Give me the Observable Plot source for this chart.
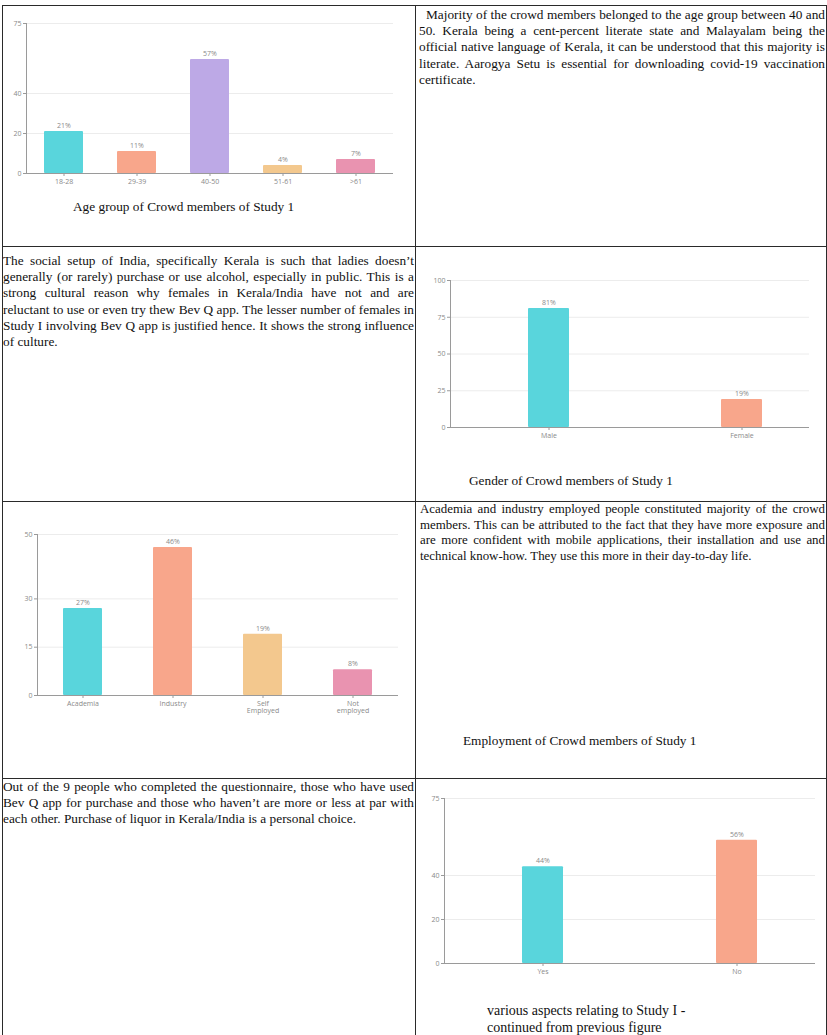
<!DOCTYPE html>
<html>
<head>
<meta charset="utf-8">
<script src="https://cdn.jsdelivr.net/npm/d3@7"></script>
<script src="https://cdn.jsdelivr.net/npm/@observablehq/plot@0.6"></script>
<style>
  body { margin: 0; background: #fff; }
  #page { position: relative; width: 827px; height: 1035px; overflow: hidden; background: #fff;
          font-family: "Liberation Serif", "Times New Roman", serif; color: #111; }
  .hl, .vl { position: absolute; background: #2a2a2a; }
  .txt { position: absolute; font-size: 13.3px; line-height: 16.2px; text-align: justify; }
  .txt .ln { text-align: justify; text-align-last: justify; white-space: nowrap; }
  .txt .ln.last { text-align-last: left; }
  .cap { position: absolute; font-size: 13.3px; line-height: 16px; white-space: nowrap; }
  .chart { position: absolute; }
</style>
</head>
<body>
<div id="page">
  <div class="hl" style="left:2px;top:5px;width:825px;height:1.3px"></div>
  <div class="hl" style="left:2px;top:245.5px;width:825px;height:1.3px"></div>
  <div class="hl" style="left:2px;top:500.5px;width:825px;height:1.3px"></div>
  <div class="hl" style="left:2px;top:777.5px;width:825px;height:1.3px"></div>
  <div class="vl" style="left:1.5px;top:5px;width:1.3px;height:1030px"></div>
  <div class="vl" style="left:415px;top:5px;width:1.3px;height:1030px"></div>
  <div class="vl" style="left:825.5px;top:5px;width:1.3px;height:1030px"></div>

  <div class="txt" style="left:419px;top:7px;width:406px;text-indent:7px">Majority of the crowd members belonged to the age group between 40 and 50. Kerala being a cent-percent literate state and Malayalam being the official native language of Kerala, it can be understood that this majority is literate. Aarogya Setu is essential for downloading covid-19 vaccination certificate.</div>
  <div class="txt" style="left:3px;top:253px;width:411px">
    <div class="ln">The social setup of India, specifically Kerala is such that ladies doesn’t</div>
    <div class="ln">generally (or rarely) purchase or use alcohol, especially in public. This is a</div>
    <div class="ln">strong cultural reason why females in Kerala/India have not and are</div>
    <div class="ln">reluctant to use or even try thew Bev Q app. The lesser number of females in</div>
    <div class="ln">Study I involving Bev Q app is justified hence. It shows the strong influence</div>
    <div class="ln last">of culture.</div>
  </div>
  <div class="txt" style="left:420px;top:502px;width:405px;line-height:15.6px;font-size:12.9px">Academia and industry employed people constituted majority of the crowd members. This can be attributed to the fact that they have more exposure and are more confident with mobile applications, their installation and use and technical know-how. They use this more in their day-to-day life.</div>
  <div class="txt" style="left:3px;top:779px;width:411px;line-height:15.8px">Out of the 9 people who completed the questionnaire, those who have used Bev Q app for purchase and those who haven’t are more or less at par with each other. Purchase of liquor in Kerala/India is a personal choice.</div>

  <div class="cap" style="left:73px;top:199px">Age group of Crowd members of Study 1</div>
  <div class="cap" style="left:469px;top:473px">Gender of Crowd members of Study 1</div>
  <div class="cap" style="left:463px;top:733px">Employment of Crowd members of Study 1</div>
  <div class="cap" style="left:487px;top:1002px;font-size:14px;line-height:17px">various aspects relating to Study I -<br>continued from previous figure</div>

  <div class="chart" id="c1" style="left:0px;top:0px"></div>
  <div class="chart" id="c2" style="left:416px;top:246px"></div>
  <div class="chart" id="c3" style="left:0px;top:501px"></div>
  <div class="chart" id="c4" style="left:416px;top:779px"></div>
</div>
<script>
// ---- Data ----
const ageGroups = ["18-28", "29-39", "40-50", "51-61", ">61"];
const agePct = [21, 11, 57, 4, 7];
const ageTicks = [0, 20, 40, 75];
const ageColors = ["#59d5dc", "#f8a68b", "#bda9e6", "#f3c88e", "#e993b0"];

const genders = ["Male", "Female"];
const genderPct = [81, 19];
const genderTicks = [0, 25, 50, 75, 100];
const genderColors = ["#59d5dc", "#f8a68b"];

const employment = ["Academia", "Industry", "Self\nEmployed", "Not\nemployed"];
const employmentPct = [27, 46, 19, 8];
const employmentTicks = [0, 15, 30, 50];
const employmentColors = ["#59d5dc", "#f8a68b", "#f3c88e", "#e993b0"];

const usedApp = ["Yes", "No"];
const usedAppPct = [44, 56];
const usedAppTicks = [0, 20, 40, 75];
const usedAppColors = ["#59d5dc", "#f8a68b"];

function barChart(el, cats, vals, ticks, colors, opt) {
  const data = cats.map((c, i) => ({cat: c, v: vals[i], color: colors[i]}));
  const xOpts = {domain: cats, paddingInner: opt.pi, paddingOuter: opt.po, label: null};
  if (opt.xRange) xOpts.range = opt.xRange;
  const chart = Plot.plot({
    width: opt.width, height: opt.height,
    marginLeft: opt.ml, marginRight: opt.mr, marginTop: opt.mt, marginBottom: opt.mb,
    style: {fontFamily: "'Open Sans', sans-serif", fontSize: "7px", color: "#8a8a8a", background: "transparent", overflow: "visible"},
    x: xOpts,
    y: {domain: [0, ticks[ticks.length - 1]], label: null},
    color: {type: "identity"},
    marks: [
      Plot.gridY(ticks, {stroke: "#ececec", strokeOpacity: 1}),
      Plot.barY(data, {x: "cat", y: "v", fill: "color", rx: 1}),
      Plot.text(data, {x: "cat", y: "v", text: d => d.v + "%", dy: -6, fill: "#8a8a8a", fontSize: 7}),
      Plot.ruleY([0], {stroke: "#9a9a9a", strokeWidth: 1.2}),
      Plot.frame({anchor: "left", stroke: "#9a9a9a"}),
      Plot.axisY({ticks: ticks, tickSize: 3, tickPadding: 2, label: null, stroke: "#9a9a9a"}),
      Plot.axisX({tickSize: 3, tickPadding: 3, label: null, stroke: "#9a9a9a"})
    ]
  });
  document.getElementById(el).appendChild(chart);
}

barChart("c1", ageGroups, agePct, ageTicks, ageColors,
  {width: 415, height: 200, ml: 26, mr: 22, mt: 23, mb: 27, pi: 0.47, po: 0.235});
barChart("c2", genders, genderPct, genderTicks, genderColors,
  {width: 410, height: 215, ml: 34, mr: 17, mt: 34, mb: 34, pi: 0.79, po: 0.395, xRange: [35.5, 421.5]});
barChart("c3", employment, employmentPct, employmentTicks, employmentColors,
  {width: 415, height: 240, ml: 37, mr: 17, mt: 33, mb: 46, pi: 0.57, po: 0.285});
barChart("c4", usedApp, usedAppPct, usedAppTicks, usedAppColors,
  {width: 410, height: 200, ml: 28, mr: 11, mt: 19, mb: 16, pi: 0.79, po: 0.395, xRange: [29, 417]});
</script>
</body>
</html>
